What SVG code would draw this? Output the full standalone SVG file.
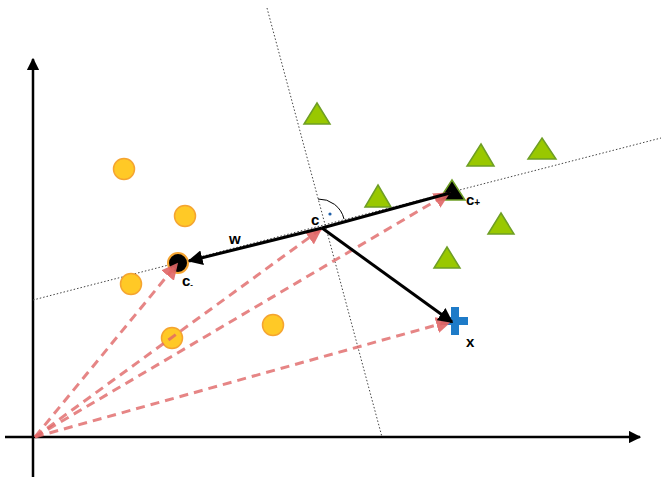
<svg xmlns="http://www.w3.org/2000/svg" width="661" height="478" viewBox="0 0 661 478">
<style>
.ax{stroke:#000;stroke-width:2.5;fill:none}
.dot{stroke:#444;stroke-width:1;stroke-dasharray:1.5,2;fill:none}
.red{stroke:#E06666;stroke-opacity:0.8;stroke-width:3;stroke-dasharray:9,6;fill:none}
.blk{stroke:#000;stroke-width:3;fill:none}
.ci{fill:#FFC926;stroke:#F5A430;stroke-width:1.5}
.tr{fill:#99C800;stroke:#6E9E25;stroke-width:1.5}
.lb{font-family:"Liberation Sans",Arial,sans-serif;font-weight:bold;font-size:15px;fill:#000}
</style>
<defs>
<marker id="ah" viewBox="0 0 10 10" refX="9" refY="5" markerWidth="5" markerHeight="5" orient="auto" markerUnits="strokeWidth">
<path d="M0,0 L10,5 L0,10 z" fill="#000"/>
</marker>
<marker id="ahr" viewBox="0 0 10 10" refX="9" refY="5" markerWidth="5.5" markerHeight="5.5" orient="auto" markerUnits="strokeWidth">
<path d="M0,0 L10,5 L0,10 z" fill="#E06666" fill-opacity="0.9"/>
</marker>
</defs>
<rect width="661" height="478" fill="#fff"/>
<g id="axes">
<line class="ax" x1="33" y1="477" x2="33" y2="59" marker-end="url(#ah)"/>
<line class="ax" x1="5" y1="437" x2="640" y2="437" marker-end="url(#ah)"/>
</g>
<g id="guides">
<line class="dot" x1="33" y1="300" x2="661" y2="138"/>
<line class="dot" x1="267" y1="8" x2="382" y2="437"/>
<path d="M318,199 A26,26 0 0 1 344,219" fill="none" stroke="#000" stroke-width="1"/>
<circle cx="330" cy="214" r="1.6" fill="#1E5FA8"/>
</g>
<g id="circles">
<circle class="ci" cx="124" cy="169" r="10.5"/>
<circle class="ci" cx="185" cy="216" r="10.5"/>
<circle class="ci" cx="131" cy="284" r="10.5"/>
<circle class="ci" cx="172" cy="338" r="10.5"/>
<circle class="ci" cx="273" cy="325" r="10.5"/>
</g>
<g id="triangles">
<polygon class="tr" points="317,103 330,124 304,124"/>
<polygon class="tr" points="481,144 494,166 467,166"/>
<polygon class="tr" points="542,138 556,159 528,159"/>
<polygon class="tr" points="378,185 391,207 365,207"/>
<polygon class="tr" points="501,213 514,234 488,234"/>
<polygon class="tr" points="447,247 460,268 434,268"/>
</g>
<g id="c-minus">
<circle cx="178" cy="263" r="10" fill="#000" stroke="#F5A430" stroke-width="2"/>
</g>
<g id="c-plus">
<polygon points="452,180 465,200 439,200" fill="#000" stroke="#6E9E25" stroke-width="1.5"/>
</g>
<g id="x-point">
<rect x="451" y="307" width="8" height="28" fill="#1E7BC8"/>
<rect x="441" y="317" width="27" height="8" fill="#1E7BC8"/>
</g>
<g id="connectors">
<line class="red" x1="35" y1="437" x2="177" y2="264" marker-end="url(#ahr)"/>
<line class="red" x1="35" y1="437" x2="321" y2="229" marker-end="url(#ahr)"/>
<line class="red" x1="35" y1="437" x2="449" y2="193" marker-end="url(#ahr)"/>
<line class="red" x1="35" y1="437" x2="451" y2="321" marker-end="url(#ahr)"/>
<line class="blk" x1="322" y1="228" x2="450" y2="193"/>
<line class="blk" x1="322" y1="228" x2="189" y2="261" marker-end="url(#ah)"/>
<line class="blk" x1="322" y1="228" x2="452" y2="322" marker-end="url(#ah)"/>
</g>
<g id="labels">
<text class="lb" x="311" y="225">c</text>
<text class="lb" x="182" y="286">c<tspan font-size="8" dy="1">-</tspan></text>
<text class="lb" x="466" y="205">c<tspan font-size="10" dy="1">+</tspan></text>
<text class="lb" x="229" y="244">w</text>
<text class="lb" x="466" y="347">x</text>
</g>
</svg>
